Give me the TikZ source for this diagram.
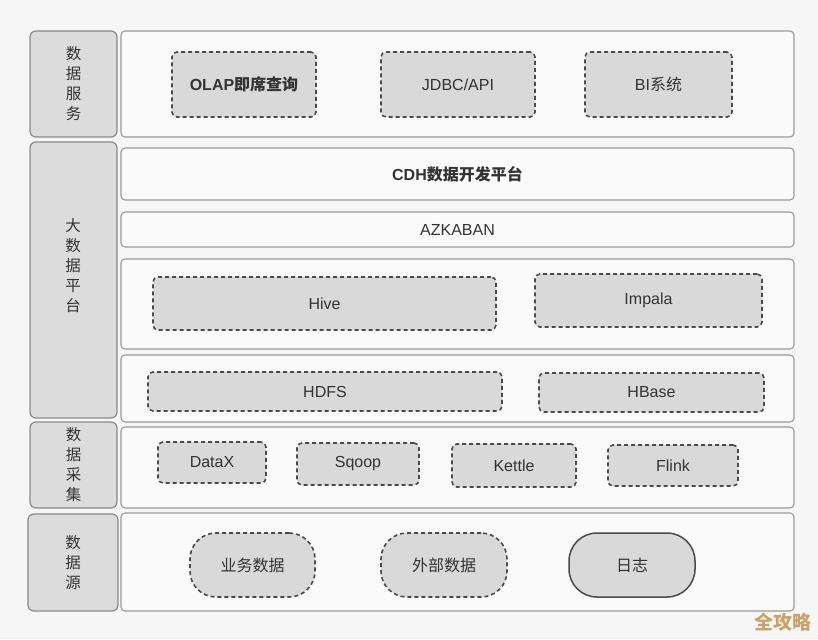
\documentclass[tikz,border=0pt]{standalone}
\usepackage{fontspec}
\setmainfont{Liberation Sans}
\newfontfamily\cjk{Noto Sans CJK SC}
\usetikzlibrary{calc}
\definecolor{bg}{HTML}{F6F6F6}
\definecolor{lblfill}{HTML}{DCDCDC}
\definecolor{lbldraw}{HTML}{8A8A8A}
\definecolor{panfill}{HTML}{FAFAFA}
\definecolor{pandraw}{HTML}{9A9A9A}
\definecolor{itemfill}{HTML}{D9D9D9}
\definecolor{itemdraw}{HTML}{4A4A4A}
\definecolor{txt}{HTML}{333333}
\definecolor{wm}{HTML}{C9A36A}
\newcommand\bx[7]{%
  \pgfmathsetmacro\bw{#4-#2}\pgfmathsetmacro\bh{#5-#3}%
  \node[#6, minimum width=\bw pt, minimum height=\bh pt, inner sep=0pt] (#1) at ({(#2+#4)/2},{(#3+#5)/2}) {#7};}
\tikzset{
  lbl/.style={draw=lbldraw, fill=lblfill, line width=1.2pt, rounded corners=6pt, text=txt, align=center, font=\cjk\fontsize{15.5}{20}\selectfont},
  panel/.style={draw=pandraw, fill=panfill, line width=1.1pt, rounded corners=4pt, text=txt, font=\fontsize{16}{18}\selectfont},
  item/.style={draw=itemdraw, fill=itemfill, line width=1.6pt, dash pattern=on 4pt off 3pt, rounded corners=5pt, text=txt, font=\fontsize{16}{18}\selectfont},
  src/.style={item, rounded corners=26pt},
  srcsolid/.style={draw=itemdraw, fill=itemfill, line width=1.5pt, rounded corners=28pt, text=txt, font=\fontsize{16}{18}\selectfont}
}
\begin{document}
\begin{tikzpicture}[x=1pt,y=-1pt]
\fill[bg] (0,0) rectangle (818,639);
\useasboundingbox (0,0) rectangle (818,639);
% left labels
\bx{l1}{30}{31}{117}{137}{lbl}{数\\据\\服\\务}
\bx{l2}{30}{142}{117}{418}{lbl}{}
\node[lbl, draw=none, fill=none, inner sep=0pt] (l2t) at (73,266) {大\\数\\据\\平\\台};
\bx{l3}{30}{422}{117}{508}{lbl}{数\\据\\采\\集}
\bx{l4}{28}{514}{118}{611}{lbl}{数\\据\\源}
% panels
\bx{p1}{121}{31}{794}{137}{panel}{}
\bx{p2}{121}{148}{794}{200}{panel,font=\fontsize{16}{18}\selectfont\bfseries}{CDH{\cjk 数据开发平台}}
\bx{p3}{121}{212}{794}{247}{panel}{AZKABAN}
\bx{p4}{121}{259}{794}{349}{panel}{}
\bx{p5}{121}{355}{794}{422}{panel}{}
\bx{p6}{121}{427}{794}{508}{panel}{}
\bx{p7}{121}{513}{794}{611}{panel}{}
% service items
\bx{olap}{172}{52}{316}{117}{item,font=\fontsize{16}{18}\selectfont\bfseries}{OLAP{\cjk 即席查询}}
\bx{jdbc}{381}{52}{535}{117}{item}{JDBC/API}
\bx{bi}{585}{52}{732}{117}{item}{BI{\cjk 系统}}
% platform items
\bx{hive}{153}{277}{496}{330}{item}{Hive}
\bx{impala}{535}{274}{762}{327}{item}{Impala}
\bx{hdfs}{148}{372}{502}{411}{item}{HDFS}
\bx{hbase}{539}{373}{764}{412}{item}{HBase}
% collection items
\bx{datax}{158}{442}{266}{483}{item}{DataX}
\bx{sqoop}{297}{443}{419}{485}{item}{Sqoop}
\bx{kettle}{452}{444}{576}{487}{item}{Kettle}
\bx{flink}{608}{445}{738}{486}{item}{Flink}
% sources
\bx{biz}{190}{533}{315}{597}{src}{\cjk 业务数据}
\bx{ext}{381}{533}{507}{597}{src}{\cjk 外部数据}
\bx{log}{569}{533}{695}{597}{srcsolid}{\cjk 日志}
% watermark
\node[text=wm, font=\cjk\fontsize{19}{20}\selectfont\bfseries, inner sep=0pt] (wmark) at (783,622) {全攻略};
\end{tikzpicture}
\end{document}
